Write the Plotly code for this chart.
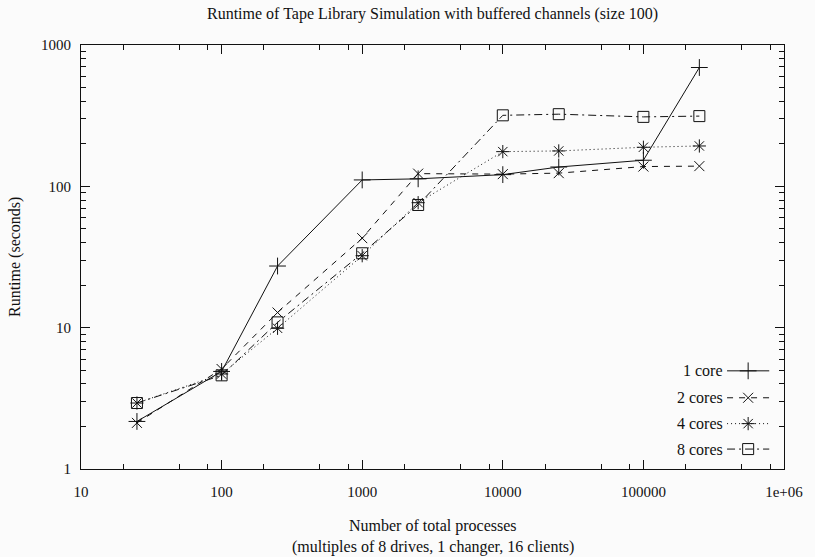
import plotly.graph_objects as go

# ---- data ----
processes = [25, 100, 250, 1000, 2500, 10000, 25000, 100000, 250000]
core1 = [2.17, 4.9, 27.3, 111, 113, 121, 137, 153, 693]
core2 = [2.12, 5.1, 12.8, 43, 123, 122, 124, 138, 139]
core4 = [2.93, 4.7, 9.9, 32.3, 76.6, 176, 178, 189, 193]
core8 = [2.93, 4.6, 10.9, 33.6, 73.8, 318, 324, 310, 314]
series_names = ["1 core", "2 cores", "4 cores", "8 cores"]

x_tickvals = [10, 100, 1000, 10000, 100000, 1000000]
x_ticktext = ["10", "100", "1000", "10000", "100000", "1e+06"]
y_tickvals = [1, 10, 100, 1000]
y_ticktext = ["1", "10", "100", "1000"]

FONT = "Liberation Serif"
FS = 16
TFS = 15
INK = "#111111"
BG = "#fbfbfb"

styles = [
    dict(dash="solid", symbol="cross-thin-open", size=12),
    dict(dash="6px,6px", symbol="x-thin-open", size=10),
    dict(dash="1px,3px", symbol="asterisk-open", size=11),
    dict(dash="8px,4px,2px,4px", symbol="square-open", size=11),
]

fig = go.Figure()
for name, ys, st in zip(series_names, [core1, core2, core4, core8], styles):
    fig.add_trace(go.Scatter(
        x=processes, y=ys, mode="lines+markers", name=name, showlegend=False,
        line=dict(color=INK, width=1, dash=st["dash"]),
        marker=dict(symbol=st["symbol"], size=st["size"],
                    line=dict(color=INK, width=1), color=INK),
    ))

# gnuplot-style key (text on left, sample on right), drawn on an overlay axis
key_rows = [0.2315, 0.168, 0.107, 0.047]
for name, st, ky in zip(series_names, styles, key_rows):
    fig.add_trace(go.Scatter(
        x=[0.919, 0.979], y=[ky, ky], mode="lines", xaxis="x2", yaxis="y2",
        showlegend=False, hoverinfo="skip",
        line=dict(color=INK, width=1, dash=st["dash"]),
    ))
    fig.add_trace(go.Scatter(
        x=[0.949], y=[ky], mode="markers", xaxis="x2", yaxis="y2",
        showlegend=False, hoverinfo="skip",
        marker=dict(symbol=st["symbol"], size=st["size"],
                    line=dict(color=INK, width=1), color=INK),
    ))
    fig.add_annotation(x=0.916, y=ky, xref="x2", yref="y2", text=name,
                       showarrow=False, xanchor="right", yanchor="middle",
                       font=dict(family=FONT, size=FS, color=INK))

x_minor = [m * 10 ** e for e in range(1, 6) for m in (2, 5, 8)]
y_minor = [m * 10 ** e for e in range(0, 3) for m in range(2, 10)]

axis_common = dict(
    type="log", showgrid=False, zeroline=False, showline=True,
    linecolor=INK, linewidth=1, mirror="allticks", ticks="inside",
    ticklen=9, tickwidth=1, tickcolor=INK,
    tickfont=dict(family=FONT, size=TFS, color=INK),
)

fig.update_layout(
    width=815, height=557, autosize=False,
    paper_bgcolor=BG, plot_bgcolor=BG,
    margin=dict(l=81, r=26, t=45, b=88),
    font=dict(family=FONT, size=FS, color=INK),
    xaxis=dict(**axis_common, range=[1, 6], tickmode="array",
               tickvals=x_tickvals, ticktext=x_ticktext, ticklabelstandoff=9,
               minor=dict(tickmode="array", tickvals=x_minor, ticks="inside",
                          ticklen=5, tickwidth=1, tickcolor=INK, showgrid=False)),
    yaxis=dict(**axis_common, range=[0, 3], tickmode="array",
               tickvals=y_tickvals, ticktext=y_ticktext, ticklabelstandoff=6,
               minor=dict(tickmode="array", tickvals=y_minor, ticks="inside",
                          ticklen=5, tickwidth=1, tickcolor=INK, showgrid=False)),
    xaxis2=dict(overlaying="x", range=[0, 1], visible=False, fixedrange=True),
    yaxis2=dict(overlaying="y", range=[0, 1], visible=False, fixedrange=True),
    showlegend=False,
    hovermode=False,
)

fig.add_annotation(x=0.5, y=1, xref="paper", yref="paper", yshift=31,
                   text="Runtime of Tape Library Simulation with buffered channels (size 100)",
                   showarrow=False, xanchor="center", yanchor="middle",
                   font=dict(family=FONT, size=FS, color=INK))
fig.add_annotation(x=0.5, y=0, xref="paper", yref="paper", yshift=-57,
                   text="Number of total processes", showarrow=False,
                   xanchor="center", yanchor="middle",
                   font=dict(family=FONT, size=FS, color=INK))
fig.add_annotation(x=0.5, y=0, xref="paper", yref="paper", yshift=-78,
                   text="(multiples of 8 drives, 1 changer, 16 clients)", showarrow=False,
                   xanchor="center", yanchor="middle",
                   font=dict(family=FONT, size=FS, color=INK))
fig.add_annotation(x=0, y=0.5, xref="paper", yref="paper", xshift=-66,
                   text="Runtime (seconds)", showarrow=False, textangle=-90,
                   xanchor="center", yanchor="middle",
                   font=dict(family=FONT, size=FS, color=INK))

fig.write_html("out.html", config={"displayModeBar": False},
               post_script="document.body.style.margin='0';document.body.style.overflow='hidden';")
